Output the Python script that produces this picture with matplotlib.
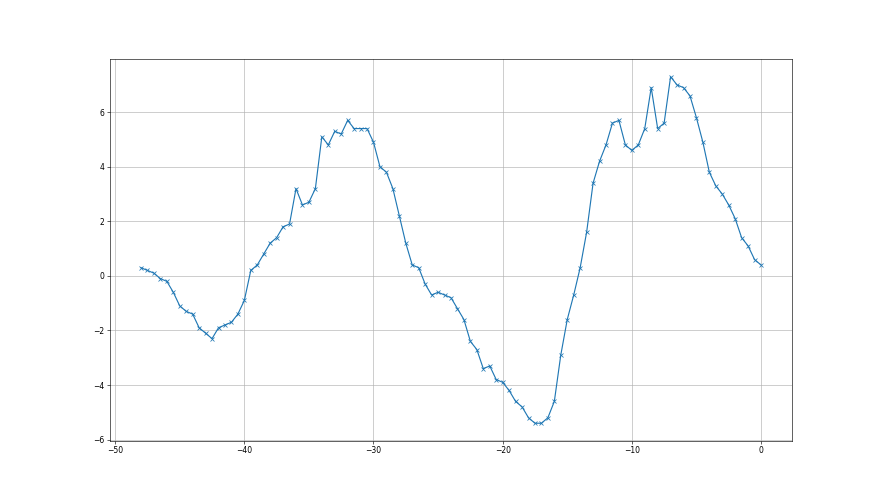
import numpy as np
import matplotlib
matplotlib.use("Agg")
import matplotlib.pyplot as plt

# sample positions (step 0.5 from -48 to 0)
x = np.arange(-48, 0.25, 0.5)

# values
y = [0.3, 0.2, 0.1, -0.1, -0.2, -0.6, -1.1, -1.3, -1.4, -1.9,
     -2.1, -2.3, -1.9, -1.8, -1.7, -1.4, -0.9, 0.2, 0.4, 0.8,
     1.2, 1.4, 1.8, 1.9, 3.2, 2.6, 2.7, 3.2, 5.1, 4.8,
     5.3, 5.2, 5.7, 5.4, 5.4, 5.4, 4.9, 4.0, 3.8, 3.2,
     2.2, 1.2, 0.4, 0.3, -0.3, -0.7, -0.6, -0.7, -0.8, -1.2,
     -1.6, -2.4, -2.7, -3.4, -3.3, -3.8, -3.9, -4.2, -4.6, -4.8,
     -5.2, -5.4, -5.4, -5.2, -4.6, -2.9, -1.6, -0.7, 0.3, 1.6,
     3.4, 4.2, 4.8, 5.6, 5.7, 4.8, 4.6, 4.8, 5.4, 6.9,
     5.4, 5.6, 7.3, 7.0, 6.9, 6.6, 5.8, 4.9, 3.8, 3.3,
     3.0, 2.6, 2.1, 1.4, 1.1, 0.6, 0.4]

fig = plt.figure(figsize=(16, 9), dpi=55)
plt.plot(x, y, marker='x')
plt.grid(True)
plt.savefig("out.png", dpi=55)
